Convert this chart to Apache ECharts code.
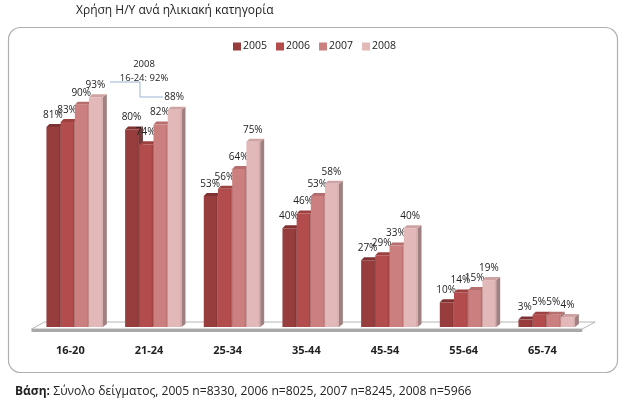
<!DOCTYPE html>
<html><head><meta charset="utf-8">
<style>html,body{margin:0;padding:0;background:#fff}#c{width:635px;height:401px}</style>
<script src="https://cdn.jsdelivr.net/npm/echarts@6/dist/echarts.min.js"></script>
</head><body><div id="c"></div>
<script>
const categories = ['16-20','21-24','25-34','35-44','45-54','55-64','65-74'];
const years = ['2005','2006','2007','2008'];
const v2005 = [81,80,53,40,27,10,3];
const v2006 = [83,74,56,46,29,14,5];
const v2007 = [90,82,64,53,33,15,5];
const v2008 = [93,88,75,58,40,19,4];
const seriesValues = [v2005,v2006,v2007,v2008];
const faceColors = ['#973d3d','#b34c4c','#cc7f7f','#e2b8b8'];
const topColors  = ['#7f3232','#9c4040','#b56d6d','#cfa3a3'];
const sideColors = ['#6e3a3a','#7d4444','#96706f','#a08080'];
const FONT = '"Open Sans","Noto Sans",sans-serif';
const barW = 14.2, dx = 4, dy = 3;

const chart = echarts.init(document.getElementById('c'), null, {renderer:'canvas'});

function barItem(si){
  return function(params, api){
    const cat = api.value(0), val = api.value(1);
    const base = api.coord([cat,0]), top = api.coord([cat,val]);
    const x0 = base[0] + (si-2)*barW, x1 = x0 + barW - 0.4;
    const yT = top[1], yB = base[1];
    return {type:'group', children:[
      {type:'polygon', shape:{points:[[x1,yT],[x1+dx,yT-dy],[x1+dx,yB-dy],[x1,yB]]}, style:{fill:sideColors[si]}},
      {type:'polygon', shape:{points:[[x0,yT],[x0+dx-1,yT-dy],[x1+dx,yT-dy],[x1,yT]]}, style:{fill:topColors[si]}},
      {type:'rect', shape:{x:x0,y:yT,width:x1-x0,height:yB-yT},
        style:{fill:new echarts.graphic.LinearGradient(0,0,1,0,[
          {offset:0,color:faceColors[si]},{offset:0.85,color:faceColors[si]},{offset:1,color:topColors[si]}])}},
      {type:'text', x:(x0+x1)/2 - 0.5, y:yT-12,
        style:{text:val+'%', fill:'#222', font:'10px '+FONT, align:'center', verticalAlign:'middle'}}
    ]};
  };
}
function floorItem(params){
  const c = params.coordSys;
  const L = c.x-4, R = c.x+c.width-4, B = c.y+c.height;
  return {type:'group', silent:true, children:[
    {type:'polygon', shape:{points:[[L,B+2],[L+13,B-5],[R+13,B-5],[R,B+2]]},
      style:{fill:'#fff',stroke:'#b5b5b5',lineWidth:1}},
    {type:'rect', shape:{x:L,y:B+2,width:R-L,height:3}, style:{fill:'#a8a8a8'}}
  ]};
}

chart.setOption({
  animation:false,
  backgroundColor:'#fff',
  title:{text:'Χρήση Η/Υ ανά ηλικιακή κατηγορία', left:71, top:0,
    textStyle:{fontFamily:FONT,fontWeight:'normal',fontSize:12,color:'#222'}},
  legend:{data:years, left:228, top:36, itemWidth:8, itemHeight:8, itemGap:9, icon:'rect',
    textStyle:{fontFamily:FONT,fontSize:10.5,color:'#222',padding:[0,0,0,-3]}},
  grid:{left:35.5,width:550.7,top:80,height:247},
  xAxis:{type:'category',data:categories,
    axisLine:{show:false},axisTick:{show:false},
    axisLabel:{margin:18,padding:[0,9,0,0],fontFamily:FONT,fontSize:11,fontWeight:'bold',color:'#222'}},
  yAxis:{type:'value',min:0,max:100,show:false,splitLine:{show:false}},
  graphic:[
    {type:'rect',z:-10,shape:{x:8.5,y:27.5,width:609,height:345,r:12},style:{fill:'#fff',stroke:'#b0b0b0',lineWidth:1.2}},
    {type:'polyline',shape:{points:[[110,82],[140,82],[140,97],[163,97]]},style:{fill:null,stroke:'#9db5d6',lineWidth:1}},
    {type:'text',x:144,y:64,style:{text:'2008',font:'9.5px '+FONT,fill:'#222',align:'center',verticalAlign:'middle'}},
    {type:'text',x:144,y:78,style:{text:'16-24: 92%',font:'9.5px '+FONT,fill:'#222',align:'center',verticalAlign:'middle'}},
    {type:'text',x:15,y:392,style:{
      rich:{b:{font:'bold 12px '+FONT,fill:'#222'},n:{font:'12.1px '+FONT,fill:'#222'}},
      text:'{b|Βάση:} {n|Σύνολο δείγματος, 2005 n=8330, 2006 n=8025, 2007 n=8245, 2008 n=5966}',
      verticalAlign:'middle'}}
  ],
  series:[
    {type:'custom',name:'floor',z:1,silent:true,encode:{x:0,y:1},data:[[0,0]],renderItem:floorItem},
    ...years.map((y,si)=>({
      type:'custom',name:y,z:2+si,
      itemStyle:{color:faceColors[si]},
      encode:{x:0,y:1},
      data:seriesValues[si].map((v,i)=>[i,v]),
      renderItem:barItem(si)
    }))
  ]
});
</script></body></html>
